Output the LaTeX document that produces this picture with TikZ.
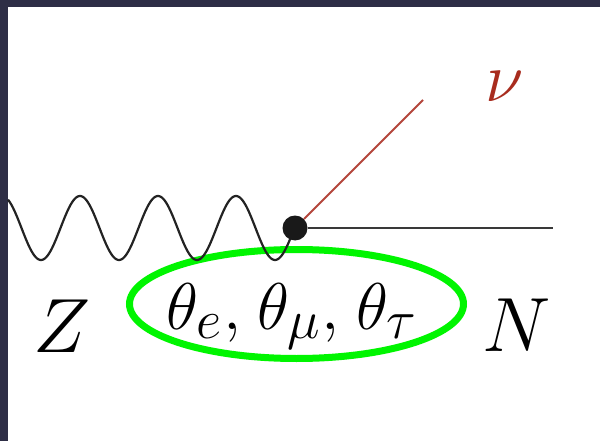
\documentclass[tikz,border=0pt]{standalone}
\usepackage{amsmath}
\definecolor{frame}{RGB}{46,46,70}
\definecolor{nured}{RGB}{168,44,30}
\definecolor{nuline}{RGB}{180,70,60}
\definecolor{ellgreen}{RGB}{0,245,0}
\definecolor{lineblk}{RGB}{35,35,35}
\tikzset{
  lbl/.style={inner sep=0pt, anchor=base, font=\Huge, scale=3.09},
  vertexdot/.style={circle, fill=black!90, inner sep=0pt, minimum size=25pt},
  boson/.style={line width=2.2pt, lineblk},
  fermion/.style={line width=2.2pt, lineblk!90},
  neutrino/.style={line width=1.8pt, nuline},
  mixbox/.style={ellipse, draw=ellgreen, line width=7pt, minimum width=334pt, minimum height=109pt, inner sep=0pt}
}
\usetikzlibrary{shapes.geometric}
\begin{document}
\begin{tikzpicture}[x=1pt, y=-1pt]
\useasboundingbox (0,0) rectangle (600,441);
\fill[white] (0,0) rectangle (600,441);
\fill[frame] (0,0) rectangle (600,7);
\fill[frame] (0,0) rectangle (8,441);
% mixing ellipse
\node[mixbox] (mix) at (296.5,304) {};
% wave
\coordinate (w) at (8,200);
\draw[boson] plot[domain=8:293, samples=240, smooth] (\x, {228-32*cos(4.61538*(\x-80))});
% vertex
\node[vertexdot] (v) at (295,228) {};
\coordinate (nend) at (553,228);
\coordinate (nuend) at (423,100);
\draw[fermion] (v) -- (nend);
\draw[neutrino] (v) -- (nuend);
% labels
\node[lbl, scale=0.91, text=nured] (nu) at (505,102) {$\nu$};
\node[lbl] (Z) at (62,352) {$Z$};
\node[lbl] (N) at (517,351) {$N$};
\node[lbl, scale=0.86] (th) at (292,329) {$\theta_e,\mkern1.5mu\theta_\mu,\mkern1.5mu\theta_\tau$};
\end{tikzpicture}
\end{document}
